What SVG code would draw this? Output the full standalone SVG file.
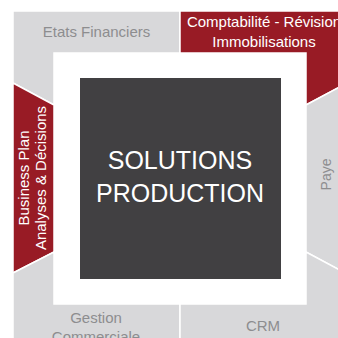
<svg xmlns="http://www.w3.org/2000/svg" width="338" height="338" viewBox="0 0 338 338">
<style>
.seg{stroke:#fff;stroke-width:1.5;stroke-linejoin:miter}
.grey{fill:#d8d8da}
.red{fill:#981b25}
.lbl{font-family:"Liberation Sans",Arial,sans-serif;font-size:15px;text-anchor:middle}
.gt{fill:#8d8d8f}
.wt{fill:#fff}
.big{font-family:"Liberation Sans",Arial,sans-serif;font-size:25px;text-anchor:middle;fill:#fff}
</style>
<rect x="0" y="0" width="338" height="338" fill="#fff"/>
<g id="etats-financiers">
<polygon class="seg grey" points="13,11 180,11 180,53 54,53 54,105 13,83"/>
<text class="lbl gt" x="96.5" y="36.7">Etats Financiers</text>
</g>
<g id="comptabilite">
<polygon class="seg red" points="180,11 347,11 347,83 306,105 306,53 180,53"/>
<text class="lbl wt" x="264" y="27.3">Comptabilité - Révision</text>
<text class="lbl wt" x="264" y="46.7">Immobilisations</text>
</g>
<g id="business-plan">
<polygon class="seg red" points="13,83 54,105 54,252 13,273"/>
<text class="lbl wt" transform="translate(29,178) rotate(-90)">Business Plan</text>
<text class="lbl wt" transform="translate(46,178) rotate(-90)">Analyses &amp; Décisions</text>
</g>
<g id="paye">
<polygon class="seg grey" points="306,105 347,83 347,274 306,252"/>
<text class="lbl gt" style="font-size:14px" transform="translate(331,174.5) rotate(-90)">Paye</text>
</g>
<g id="gestion-commerciale">
<polygon class="seg grey" points="13,273 54,252 54,304 180,304 180,346 13,346"/>
<text class="lbl gt" x="96" y="322.7">Gestion</text>
<text class="lbl gt" x="96" y="342">Commerciale</text>
</g>
<g id="crm">
<polygon class="seg grey" points="180,304 306,304 306,252 347,274 347,346 180,346"/>
<text class="lbl gt" x="263" y="330.7">CRM</text>
</g>
<g id="center">
<rect x="54" y="53" width="252" height="251" fill="#fff"/>
<rect x="80" y="78" width="201" height="201" fill="#414042"/>
<text class="big" x="180" y="169.3">SOLUTIONS</text>
<text class="big" x="180" y="202.3">PRODUCTION</text>
</g>
<g id="connectors"/>
</svg>
